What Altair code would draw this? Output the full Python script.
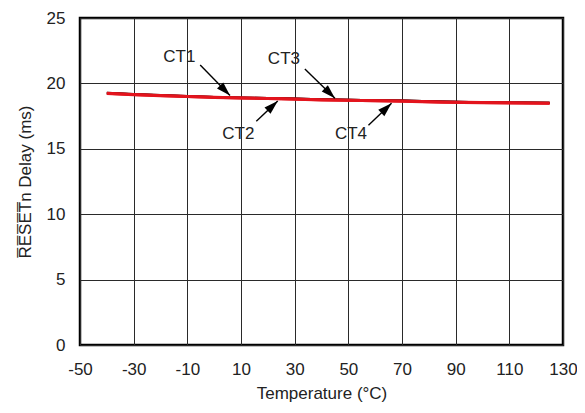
import math
import altair as alt
import pandas as pd

# ---- data ----
temps = [-40, -30, -20, -10, 0, 10, 25, 40, 55, 70, 85, 100, 115, 125]
ct1 = [19.27, 19.18, 19.10, 19.02, 18.96, 18.91, 18.86, 18.78, 18.72, 18.68, 18.60, 18.56, 18.53, 18.51]
ct2 = [19.24, 19.15, 19.07, 19.00, 18.94, 18.88, 18.83, 18.75, 18.70, 18.65, 18.57, 18.54, 18.51, 18.49]
ct3 = [19.26, 19.17, 19.09, 19.01, 18.95, 18.90, 18.86, 18.79, 18.73, 18.69, 18.61, 18.56, 18.53, 18.51]
ct4 = [19.23, 19.14, 19.06, 18.99, 18.93, 18.88, 18.82, 18.74, 18.69, 18.64, 18.56, 18.53, 18.50, 18.48]
series_names = ["CT1", "CT2", "CT3", "CT4"]
series_colors = ["#000000", "#e3141d", "#000000", "#e3141d"]

label_names = ["CT1", "CT2", "CT3", "CT4"]
label_x = [-13.0, 9.0, 26.0, 51.0]
label_y = [22.0, 16.1, 21.9, 16.1]
arrow_x1 = [-5.2, 15.7, 33.8, 57.5]
arrow_y1 = [21.4, 17.1, 21.1, 16.8]
arrow_x2 = [5.9, 23.7, 45.0, 66.1]
arrow_y2 = [19.07, 18.66, 18.86, 18.48]

x_ticks = [-50, -30, -10, 10, 30, 50, 70, 90, 110, 130]
y_ticks = [0, 5, 10, 15, 20, 25]

W, H = 483, 327
FONT = "Liberation Sans"
FS = 17

rows = []
for name, vals, col in zip(series_names, [ct1, ct2, ct3, ct4], series_colors):
    for t, v in zip(temps, vals):
        rows.append({"T": t, "D": v, "series": name, "col": col})
df = pd.DataFrame(rows)

ann = pd.DataFrame({
    "name": label_names, "lx": label_x, "ly": label_y,
    "x1": arrow_x1, "y1": arrow_y1, "x2": arrow_x2, "y2": arrow_y2,
})
ann["angle"] = [
    (math.degrees(math.atan2((b - a) * W / 180.0, (d - c) * H / 25.0)) % 360)
    for a, b, c, d in zip(ann.x1, ann.x2, ann.y1, ann.y2)
]

xs = alt.Scale(domain=[-50, 130], nice=False, zero=False)
ys = alt.Scale(domain=[0, 25], nice=False, zero=False)

hyphen = "datum.value < 0 ? '-' + abs(datum.value) : '' + datum.value"
xaxis = alt.Axis(values=x_ticks, title="Temperature (°C)", grid=True, ticks=False,
                 domain=False, labelPadding=16, titlePadding=8, labelFlush=False,
                 labelExpr=hyphen)
yaxis = alt.Axis(values=y_ticks, title="R\u0305E\u0305S\u0305E\u0305T\u0305n Delay (ms)", grid=True,
                 ticks=False, domain=False, labelPadding=15, titlePadding=12, labelFlush=False)

base = alt.Chart(df)

black = base.transform_filter(alt.datum.col == "#000000").mark_line(
    color="#000000", strokeWidth=2.2
).encode(
    x=alt.X("T:Q", scale=xs, axis=xaxis),
    y=alt.Y("D:Q", scale=ys, axis=yaxis),
    detail="series:N",
)
red = base.transform_filter(alt.datum.col != "#000000").mark_line(
    color="#e3141d", strokeWidth=3
).encode(x=alt.X("T:Q", scale=xs), y=alt.Y("D:Q", scale=ys), detail="series:N")

arrow_lines = alt.Chart(ann).mark_rule(color="black", strokeWidth=1.4).encode(
    x=alt.X("x1:Q", scale=xs), y=alt.Y("y1:Q", scale=ys), x2="x2:Q", y2="y2:Q"
)
heads = alt.Chart(ann).mark_point(
    shape="M0,0 L0.45,1.45 L-0.45,1.45 Z", filled=True, color="black", opacity=1, size=380
).encode(x=alt.X("x2:Q", scale=xs), y=alt.Y("y2:Q", scale=ys), angle=alt.Angle("angle:Q", scale=None))

labels = alt.Chart(ann).mark_text(font=FONT, fontSize=FS, color="#222222").encode(
    x=alt.X("lx:Q", scale=xs), y=alt.Y("ly:Q", scale=ys), text="name:N"
)

topline = alt.Chart(ann).mark_rule(color="black", strokeWidth=1.2).encode(
    x=alt.value(-80), x2=alt.value(505), y=alt.value(-16)
)

chart = alt.layer(black, red, arrow_lines, heads, labels, topline).properties(
    width=W, height=H,
    autosize=alt.AutoSizeParams(type="none"),
    padding={"left": 72, "top": 10, "right": 14, "bottom": 60},
).configure_view(
    stroke="black", strokeWidth=2.5
).configure_axis(
    gridColor="#2a2a2a", gridWidth=1, gridOpacity=1,
    labelFont=FONT, labelFontSize=FS, labelColor="#222222",
    titleFont=FONT, titleFontSize=FS, titleFontWeight="normal", titleColor="#222222",
)

chart.save("out.html", embed_options={"renderer": "svg", "actions": False})
